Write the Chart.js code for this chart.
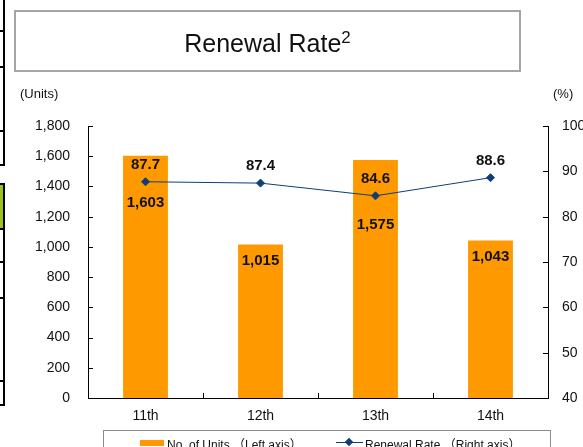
<!DOCTYPE html>
<html>
<head>
<meta charset="utf-8">
<script src="https://cdn.jsdelivr.net/npm/chart.js@4/dist/chart.umd.min.js"></script>
<style>
  html, body { margin: 0; padding: 0; background: #fff; }
  body { width: 583px; height: 447px; position: relative; overflow: hidden;
         font-family: Arial, "Liberation Sans", "Noto Sans CJK JP", sans-serif; color: #111; }
  #grafico { position: absolute; left: 0; top: 0; }
  .titulo { position: absolute; left: 14px; top: 10px; width: 503px; height: 58px;
            border: 2px solid #a6a6a6; text-align: center; font-size: 25px; line-height: 62px; }
  .titulo sup { font-size: 17px; vertical-align: 9px; line-height: 0; }
  .unidade { position: absolute; top: 86px; font-size: 13px; }
  .legenda { position: absolute; left: 103px; top: 430px; width: 446px; height: 30px;
             border: 1px solid #8c8c8c; font-size: 12px; }
  .legenda span { position: absolute; top: 4px; white-space: nowrap; }
  .borda { position: absolute; background: #000; }
</style>
</head>
<body>
<!-- pedaço da tabela vizinha na margem esquerda -->
<div class="borda" style="left:3px;top:0;width:2px;height:166px"></div>
<div class="borda" style="left:0;top:30px;width:4px;height:2px"></div>
<div class="borda" style="left:0;top:66px;width:4px;height:2px"></div>
<div class="borda" style="left:0;top:130px;width:4px;height:2px"></div>
<div class="borda" style="left:0;top:164px;width:4px;height:2px"></div>
<div style="position:absolute;left:0;top:183px;width:3px;height:45px;background:#99c21a;border-top:2px solid #000;border-right:2px solid #000"></div>
<div class="borda" style="left:3px;top:228px;width:2px;height:178px"></div>
<div class="borda" style="left:0;top:228px;width:4px;height:2px"></div>
<div class="borda" style="left:0;top:261px;width:4px;height:2px"></div>
<div class="borda" style="left:0;top:297px;width:4px;height:2px"></div>
<div class="borda" style="left:0;top:380px;width:4px;height:2px"></div>
<div class="borda" style="left:0;top:404px;width:4px;height:2px"></div>

<canvas id="grafico" width="583" height="447"></canvas>
<div class="titulo">Renewal Rate<sup>2</sup></div>
<div class="unidade" style="left:20px">(Units)</div>
<div class="unidade" style="left:553px">(%)</div>
<div class="legenda" id="legenda"></div>

<script>
const periodos = ['11th', '12th', '13th', '14th'];
const unidades = [1603, 1015, 1575, 1043];
const taxaRenovacao = [87.7, 87.4, 84.6, 88.6];
const nomeUnidades = 'No. of Units （Left axis）';
const nomeTaxa = 'Renewal Rate （Right axis）';

const laranja = '#ff9900';
const azul = '#0e3f77';
const fonte = 'Arial, "Liberation Sans", sans-serif';

// valores escritos sobre as barras e os pontos
const rotulos = {
  id: 'rotulos',
  afterDatasetsDraw(chart) {
    const ctx = chart.ctx;
    const desvioBarras = [47, 16, 65, 16];
    ctx.save();
    ctx.font = 'bold 15px ' + fonte;
    ctx.fillStyle = '#111';
    ctx.textAlign = 'center';
    ctx.textBaseline = 'middle';
    chart.getDatasetMeta(0).data.forEach((el, i) => {
      ctx.fillText(unidades[i].toLocaleString('en-US'), el.x, el.y + desvioBarras[i]);
    });
    chart.getDatasetMeta(1).data.forEach((el, i) => {
      ctx.fillText(taxaRenovacao[i].toFixed(1), el.x, el.y - 17);
    });
    ctx.restore();
  }
};

// marcas dos eixos voltadas para dentro
const marcas = {
  id: 'marcas',
  afterDraw(chart) {
    const ctx = chart.ctx;
    const { y, y1, x } = chart.scales;
    ctx.save();
    ctx.strokeStyle = '#000';
    ctx.lineWidth = 1;
    ctx.beginPath();
    y.ticks.forEach(t => {
      const py = Math.round(y.getPixelForValue(t.value)) + 0.5;
      ctx.moveTo(y.right, py); ctx.lineTo(y.right + 5, py);
    });
    y1.ticks.forEach(t => {
      const py = Math.round(y1.getPixelForValue(t.value)) + 0.5;
      ctx.moveTo(y1.left - 5, py); ctx.lineTo(y1.left, py);
    });
    for (let i = 0; i < periodos.length - 1; i++) {
      const px = Math.round((x.getPixelForValue(i) + x.getPixelForValue(i + 1)) / 2) + 0.5;
      ctx.moveTo(px, x.top); ctx.lineTo(px, x.top - 5);
    }
    ctx.stroke();
    ctx.restore();
  }
};

const ctx = document.getElementById('grafico').getContext('2d');
const grafico = new Chart(ctx, {
  type: 'bar',
  data: {
    labels: periodos,
    datasets: [{
      label: nomeUnidades,
      data: unidades,
      yAxisID: 'y',
      backgroundColor: laranja,
      categoryPercentage: 1,
      barPercentage: 0.39,
      order: 1
    }, {
      type: 'line',
      label: nomeTaxa,
      data: taxaRenovacao,
      yAxisID: 'y1',
      borderColor: azul,
      backgroundColor: azul,
      borderWidth: 1,
      pointStyle: 'rectRot',
      pointRadius: 4,
      pointHoverRadius: 4,
      tension: 0,
      order: 0
    }]
  },
  options: {
    responsive: false,
    animation: false,
    devicePixelRatio: 1,
    layout: { padding: { top: 126, left: 0, right: 0, bottom: 0 } },
    plugins: { legend: { display: false }, tooltip: { enabled: false } },
    scales: {
      x: {
        grid: { display: false, drawTicks: false },
        border: { display: true, color: '#000', width: 1 },
        ticks: { color: '#111', font: { family: fonte, size: 14 }, padding: 10 },
        afterFit(s) { s.height = 49; }
      },
      y: {
        position: 'left',
        min: 0, max: 1800,
        grid: { display: false, drawTicks: false },
        border: { display: true, color: '#000', width: 1 },
        ticks: {
          stepSize: 200, padding: 18, color: '#111',
          font: { family: fonte, size: 14 },
          callback: v => v.toLocaleString('en-US')
        },
        afterFit(s) { s.width = 88; }
      },
      y1: {
        position: 'right',
        min: 40, max: 100,
        grid: { display: false, drawTicks: false },
        border: { display: true, color: '#000', width: 1 },
        ticks: { stepSize: 10, padding: 14, color: '#111', font: { family: fonte, size: 14 } },
        afterFit(s) { s.width = 35; }
      }
    }
  },
  plugins: [rotulos, marcas]
});

// legenda montada a partir dos nomes das séries
const legenda = document.getElementById('legenda');
legenda.innerHTML =
  '<span style="left:36px;top:9px;width:24px;height:6px;background:' + laranja + '"></span>' +
  '<span style="left:63px">' + nomeUnidades + '</span>' +
  '<span style="left:232px;top:11px;width:27px;height:1px;background:' + azul + '"></span>' +
  '<span style="left:242px;top:8px;width:6px;height:6px;background:' + azul + ';transform:rotate(45deg)"></span>' +
  '<span style="left:261px">' + nomeTaxa + '</span>';
</script>
</body>
</html>
